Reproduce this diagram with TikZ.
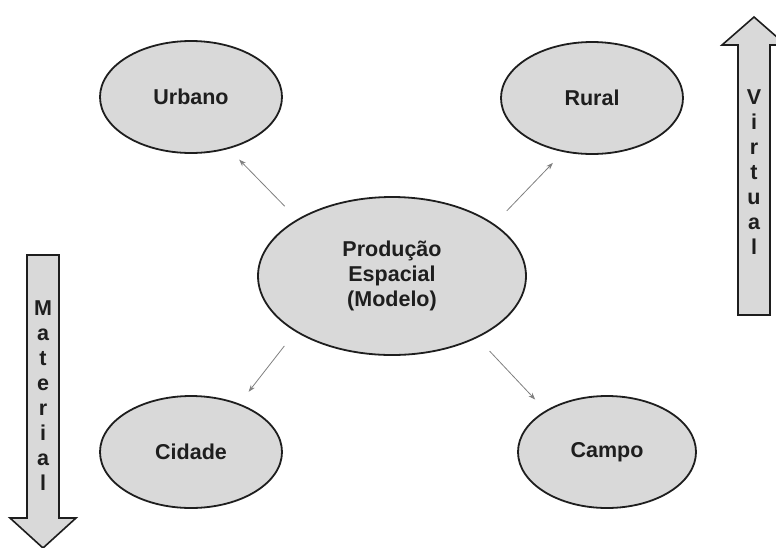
\documentclass[tikz,border=0pt]{standalone}
\usepackage{fontspec}
\setmainfont{Liberation Sans}
\usepackage{xcolor}
\usepackage{tikz}
\usetikzlibrary{positioning,shapes.geometric,arrows.meta}

\definecolor{cellgray}{RGB}{217,217,217}
\definecolor{inkblack}{RGB}{30,30,30}

\begin{document}
\begin{tikzpicture}[x=1pt,y=-1pt,on grid,
    bubble/.style={ellipse,draw=inkblack,line width=1.8pt,fill=cellgray,
        minimum width=182pt,minimum height=112pt,text=inkblack,
        font=\bfseries\fontsize{21.5}{25}\selectfont,align=center},
    link/.style={-{Stealth[length=7pt,width=5pt]},draw=gray,line width=0.8pt,
        shorten <=18pt,shorten >=15pt},
    bigarrow/.style={draw=inkblack,line width=1.6pt,fill=cellgray},
    letters/.style={text=inkblack,font=\bfseries\fontsize{21.5}{25}\selectfont,align=center}]
    	\useasboundingbox (0,0) rectangle (776,547);
    	\clip (0,0) rectangle (776,547);
    	\node[bubble,minimum width=268pt,minimum height=158pt] (prod) at (392,276) {Produção\\Espacial\\(Modelo)};
    	\node[bubble] (urb) [above left=179pt and 201pt of prod] {Urbano};
    	\node[bubble] (rur) [above right=178pt and 200pt of prod] {Rural};
    	\node[bubble] (cid) [below left=176pt and 201pt of prod] {Cidade};
    	\node[bubble,minimum width=178pt] (cam) [below right=176pt and 215pt of prod] {Campo};
    	\path
    	(prod.149) edge[link] (urb.-54)
    	(prod.27) edge[link] (rur.-118)
    	(prod.210) edge[link] (cid.45)
    	(prod.-36) edge[link] (cam.146);
    	% block arrow on the right, pointing up
    	\draw[bigarrow] (738,315) -- (738,45) -- (722,45) -- (754,17) -- (786,45) -- (770,45) -- (770,315) -- cycle;
    	\node[letters] (virt) at (754,172) {V\\i\\r\\t\\u\\a\\l};
    	% block arrow on the left, pointing down
    	\draw[bigarrow] (27,255) -- (27,518) -- (10,518) -- (43,548) -- (76,518) -- (59,518) -- (59,255) -- cycle;
    	\node[letters] (mat) at (43,396) {M\\a\\t\\e\\r\\i\\a\\l};
    \end{tikzpicture}
\end{document}
